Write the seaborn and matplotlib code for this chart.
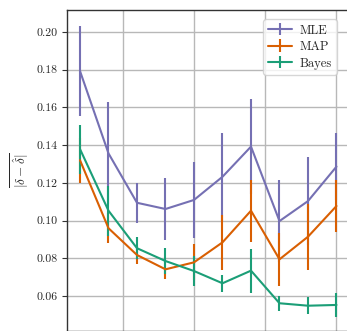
import numpy as np
import seaborn as sns
import matplotlib
matplotlib.use("Agg")
import matplotlib.pyplot as plt

# data
steps = [1, 2, 3, 4, 5, 6, 7, 8, 9, 10]
mle = [0.1793, 0.1356, 0.1094, 0.1061, 0.1109, 0.1232, 0.1392, 0.0997, 0.1103, 0.1286]
mle_err = [0.024, 0.027, 0.0107, 0.0165, 0.020, 0.0234, 0.0251, 0.0216, 0.0232, 0.0177]
map_ = [0.1320, 0.0959, 0.0817, 0.0741, 0.0778, 0.0884, 0.1052, 0.0794, 0.0914, 0.1077]
map_err = [0.012, 0.008, 0.005, 0.0053, 0.0096, 0.0145, 0.0165, 0.014, 0.0175, 0.014]
bayes = [0.1379, 0.1052, 0.0853, 0.0785, 0.0732, 0.0667, 0.0734, 0.0561, 0.0548, 0.0552]
bayes_err = [0.013, 0.0133, 0.0058, 0.007, 0.0078, 0.0045, 0.0117, 0.004, 0.0046, 0.0062]

series = [("MLE", mle, mle_err), ("MAP", map_, map_err), ("Bayes", bayes, bayes_err)]
colors = {"MLE": "#7570b3", "MAP": "#d95f02", "Bayes": "#1b9e77"}

sns.set_style("whitegrid")
plt.rcParams["font.family"] = ["cmr10", "DejaVu Serif"]
plt.rcParams["mathtext.fontset"] = "cm"
plt.rcParams["axes.formatter.use_mathtext"] = True

fig = plt.figure(figsize=(3.47, 3.31), dpi=100)
ax = fig.add_axes([67 / 347, 0.0, 0.8177, 1 - 10 / 331])

for name, vals, err in series:
    ax.errorbar(steps, vals, yerr=err, color=colors[name], lw=1.5,
                elinewidth=1.5, capsize=0, label=name)

ax.set_xlim(0.544, 10.5)
ax.set_ylim(0.04138, 0.21167)
ax.set_xticks([2.5, 5, 7.5, 10])
ax.set_xticklabels([])
ax.set_yticks([0.06, 0.08, 0.10, 0.12, 0.14, 0.16, 0.18, 0.20])
ax.set_yticklabels(["0.06", "0.08", "0.10", "0.12", "0.14", "0.16", "0.18", "0.20"])
ax.tick_params(axis="y", left=True, length=3.5, width=0.8, labelsize=8.5, pad=3, color="#333333")
ax.tick_params(axis="x", bottom=False)
ax.grid(True, color="#b8b8b8", lw=1)
for s in ax.spines.values():
    s.set_color("#333333")
    s.set_linewidth(1.0)

ax.set_ylabel(r"$\overline{|\delta - \hat{\delta}|}$", fontsize=9.5, labelpad=4)

ax.legend(loc="upper right", bbox_to_anchor=(0.972, 0.99), fontsize=9,
          frameon=True, framealpha=0.8, edgecolor="#cccccc",
          handlelength=1.9, handletextpad=0.6, borderpad=0.4, labelspacing=0.35)

fig.savefig("out.png", dpi=100)
